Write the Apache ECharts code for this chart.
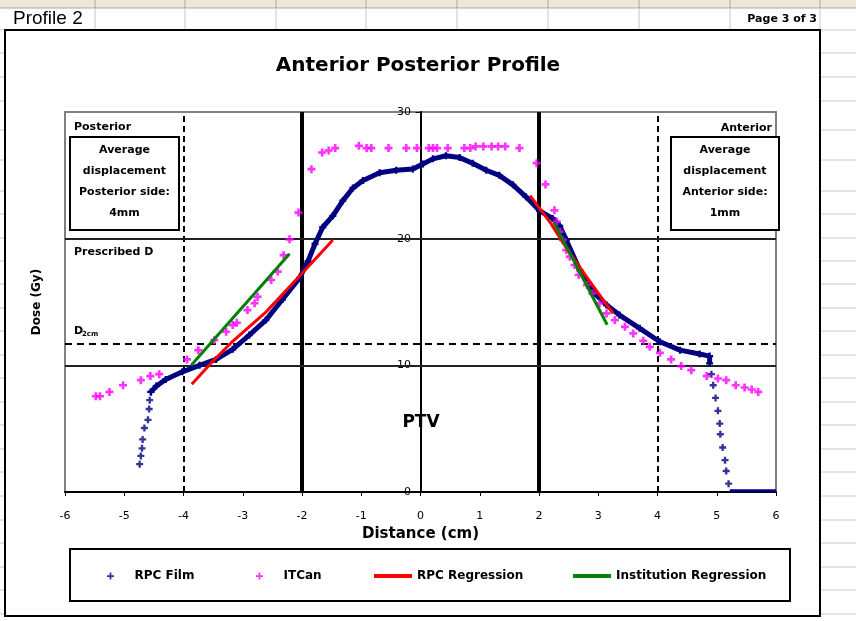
<!DOCTYPE html>
<html>
<head>
<meta charset="utf-8">
<script src="https://cdn.jsdelivr.net/npm/echarts@6/dist/echarts.min.js"></script>
<style>
html,body{margin:0;padding:0;background:#fff;}
#chart{width:856px;height:621px;}
</style>
</head>
<body>
<div id="chart"></div>
<script>
// ---------- data ----------
const xTicks = [-6,-5,-4,-3,-2,-1,0,1,2,3,4,5,6];
const yTicks = [0,10,20,30];

const filmLeftTail = [[-4.74,2.2],[-4.72,2.85],[-4.70,3.45],[-4.69,4.15],[-4.66,5.05],[-4.60,5.7],[-4.58,6.55],[-4.57,7.25],[-4.55,7.9]];
const filmCurve = [[-4.55,7.9],[-4.46,8.36],[-4.30,8.88],[-4.02,9.49],[-3.73,10.0],[-3.45,10.47],[-3.17,11.26],[-2.89,12.39],[-2.61,13.57],[-2.33,15.2],[-2.04,16.9],[-1.90,18.2],[-1.78,19.6],[-1.65,20.9],[-1.48,21.8],[-1.31,23.0],[-1.14,24.0],[-0.97,24.6],[-0.69,25.2],[-0.41,25.4],[-0.13,25.5],[0.04,25.9],[0.21,26.3],[0.43,26.55],[0.66,26.4],[0.88,25.95],[1.11,25.4],[1.33,25.0],[1.56,24.25],[1.78,23.3],[2.01,22.2],[2.23,21.6],[2.35,21.0],[2.46,19.9],[2.69,17.5],[2.91,15.8],[3.14,14.76],[3.36,13.97],[3.70,12.92],[4.04,11.86],[4.38,11.2],[4.71,10.89],[4.88,10.73],[4.88,10.15]];
const filmRightTail = [[4.91,9.3],[4.94,8.43],[4.98,7.43],[5.02,6.41],[5.05,5.40],[5.06,4.56],[5.10,3.51],[5.14,2.51],[5.16,1.66],[5.20,0.66]];
const filmFloor = [[5.22,0.1],[6.0,0.1]];

const itCan = [[-5.48,7.56],[-5.41,7.56],[-5.25,7.9],[-5.02,8.43],[-4.72,8.83],[-4.56,9.15],[-4.41,9.30],[-3.94,10.47],[-3.75,11.2],[-3.48,11.99],[-3.28,12.65],[-3.17,13.18],[-3.10,13.36],[-2.92,14.36],[-2.80,14.9],[-2.75,15.4],[-2.52,16.74],[-2.41,17.4],[-2.31,18.7],[-2.21,19.95],[-2.06,22.06],[-1.84,25.49],[-1.66,26.8],[-1.55,26.96],[-1.44,27.15],[-1.04,27.33],[-0.91,27.15],[-0.83,27.15],[-0.54,27.15],[-0.24,27.15],[-0.06,27.15],[0.14,27.15],[0.21,27.15],[0.28,27.15],[0.46,27.15],[0.74,27.15],[0.84,27.15],[0.93,27.28],[1.06,27.28],[1.20,27.28],[1.31,27.28],[1.43,27.28],[1.67,27.15],[1.96,25.96],[2.11,24.28],[2.26,22.24],[2.30,21.35],[2.35,20.55],[2.40,19.9],[2.46,19.1],[2.52,18.58],[2.60,17.92],[2.67,17.13],[2.81,16.34],[2.90,15.68],[3.02,14.89],[3.14,14.1],[3.28,13.57],[3.45,13.04],[3.59,12.52],[3.76,11.94],[3.87,11.46],[4.04,10.99],[4.23,10.47],[4.40,9.94],[4.57,9.62],[4.83,9.15],[5.02,8.96],[5.16,8.83],[5.32,8.43],[5.47,8.25],[5.59,8.09],[5.70,7.9]];

const rpcRegLeft = [[-3.86,8.5],[-3.51,10.3],[-3.17,11.9],[-2.61,14.2],[-2.04,17.05],[-1.48,19.9]];
const rpcRegRight = [[1.85,23.4],[2.2,21.2],[2.5,19.0],[2.8,17.0],[3.0,15.7],[3.25,14.1]];
const instRegLeft = [[-3.87,10.0],[-2.21,18.8]];
const instRegRight = [[2.25,21.3],[3.15,13.2]];

const dashedX = [-4, 4];
const thickX = [-2, 2];
const solidY = [10, 20];
const dashedY = [11.7];

const seriesNames = ['RPC Film','ITCan','RPC Regression','Institution Regression'];
const posteriorText = ['Average','displacement','Posterior side:','4mm'];
const anteriorText = ['Average','displacement','Anterior side:','1mm'];

// ---------- layout ----------
const FONT = '"DejaVu Sans", sans-serif';
const PLUS = 'path://M3,0H5V3H8V5H5V8H3V5H0V3H3Z';
const PLUS_BOLD = 'path://M3,0H6V3H9V6H6V9H3V6H0V3H3Z';
const NAVY = '#000080', MAG = '#FF00FF', RED = '#FF0000', GREEN = '#008000';
const GRID_L = 65, GRID_R = 80, GRID_T = 112, GRID_B = 129;
const Y_AXIS_OFFSET = -(421 - GRID_L);   // labels of the y axis sit at x = 0

const rowLines = [30,53,77,101,130,160,191,214,238,261,284,308,331,355,378,402,425,449,472,496,520,543,567,590,614];
const colLines = [95,185,276,366,457,548,639,730,820];

const bg = [];
bg.push({type:'rect', z:-5, shape:{x:0,y:0,width:856,height:8}, style:{fill:'#ECE9D8'}});
bg.push({type:'line', z:-5, shape:{x1:0,y1:8,x2:856,y2:8}, style:{stroke:'#ACA899',lineWidth:1}});
colLines.forEach(x=>{
  bg.push({type:'line', z:-5, shape:{x1:x,y1:0,x2:x,y2:8}, style:{stroke:'#ACA899',lineWidth:1}});
  bg.push({type:'line', z:-5, shape:{x1:x,y1:8,x2:x,y2:30}, style:{stroke:'#C8C8C8',lineWidth:1}});
});
rowLines.forEach(y=>{
  bg.push({type:'line', z:-5, shape:{x1:820,y1:y,x2:856,y2:y}, style:{stroke:'#C8C8C8',lineWidth:1}});
  bg.push({type:'line', z:-5, shape:{x1:0,y1:y,x2:4,y2:y}, style:{stroke:'#C8C8C8',lineWidth:1}});
});
bg.push({type:'rect', z:-4, shape:{x:5,y:30,width:815,height:586}, style:{fill:'#fff',stroke:'#000',lineWidth:2}});
bg.push({type:'text', z:-3, style:{text:'Profile 2', x:13, y:19, fill:'#000', font:'19px "Liberation Sans", Arial, sans-serif', verticalAlign:'middle'}});
bg.push({type:'text', z:-3, style:{text:'Page 3 of 3', x:817, y:19, fill:'#000', font:'bold 11px '+FONT, align:'right', verticalAlign:'middle'}});

// annotation boxes and labels
const ann = [
  {type:'rect', z:10, shape:{x:70,y:137,width:109,height:93}, style:{fill:'#fff',stroke:'#000',lineWidth:2}},
  {type:'text', z:11, style:{text:posteriorText.join('\n'), x:124.5, y:182, fill:'#000', font:'bold 11px '+FONT, lineHeight:21, align:'center', verticalAlign:'middle'}},
  {type:'rect', z:10, shape:{x:671,y:137,width:108,height:93}, style:{fill:'#fff',stroke:'#000',lineWidth:2}},
  {type:'text', z:11, style:{text:anteriorText.join('\n'), x:725, y:182, fill:'#000', font:'bold 11px '+FONT, lineHeight:21, align:'center', verticalAlign:'middle'}},
  {type:'text', z:11, style:{text:'Posterior', x:74, y:127, fill:'#000', font:'bold 11px '+FONT, verticalAlign:'middle'}},
  {type:'text', z:11, style:{text:'Anterior', x:772, y:128, fill:'#000', font:'bold 11px '+FONT, align:'right', verticalAlign:'middle'}},
  {type:'text', z:11, style:{text:'Prescribed D', x:74, y:252, fill:'#000', font:'bold 11px '+FONT, verticalAlign:'middle'}},
  {type:'text', z:11, style:{text:'D', x:74, y:331, fill:'#000', font:'bold 11px '+FONT, verticalAlign:'middle'}},
  {type:'text', z:11, style:{text:'2cm', x:82, y:334, fill:'#000', font:'bold 7px '+FONT, verticalAlign:'middle'}},
  {type:'text', z:11, style:{text:'PTV', x:421, y:423, fill:'#000', font:'bold 17px '+FONT, align:'center', verticalAlign:'middle'}},
  {type:'rect', z:1, shape:{x:70,y:549,width:720,height:52}, style:{fill:'none',stroke:'#000',lineWidth:2}}
];

function legendAt(name, left, icon, w, h){
  return {data:[{name:name, icon:icon}], left:left, top:570, padding:0, itemWidth:w, itemHeight:h, itemGap:0,
    orient:'horizontal', selectedMode:false,
    textStyle:{fontFamily:FONT, fontWeight:'bold', fontSize:12, color:'#000', padding:[0,0,0,0]}};
}

const chart = echarts.init(document.getElementById('chart'), null, {renderer:'canvas'});
chart.setOption({
  animation:false,
  backgroundColor:'#fff',
  title:{text:'Anterior Posterior Profile', left:413, textAlign:'center', top:51,
    textStyle:{fontFamily:FONT, fontWeight:'bold', fontSize:20, color:'#000'}},
  grid:{left:GRID_L, right:GRID_R, top:GRID_T, bottom:GRID_B, show:true, borderColor:'#808080', borderWidth:2,
    backgroundColor:'transparent', containLabel:false, outerBoundsMode:'none'},
  legend:[
    legendAt(seriesNames[0], 107, PLUS, 38, 7),
    legendAt(seriesNames[1], 256, PLUS, 38, 7),
    legendAt(seriesNames[2], 374, 'rect', 38, 4),
    legendAt(seriesNames[3], 573, 'rect', 38, 4)
  ],
  xAxis:{type:'value', min:xTicks[0], max:xTicks[xTicks.length-1], interval:1,
    name:'Distance (cm)', nameLocation:'middle', nameGap:32,
    nameTextStyle:{fontFamily:FONT, fontWeight:'bold', fontSize:15, color:'#000'},
    axisLine:{show:true, onZero:false, lineStyle:{color:'#000', width:2}},
    axisTick:{show:true, length:4, lineStyle:{color:'#000', width:1}},
    axisLabel:{show:true, margin:19, fontFamily:FONT, fontSize:11, color:'#000', showMinLabel:true, showMaxLabel:true},
    splitLine:{show:false}},
  yAxis:[
    {type:'value', min:yTicks[0], max:yTicks[yTicks.length-1], interval:10, position:'left', offset:Y_AXIS_OFFSET,
      name:'Dose (Gy)', nameLocation:'middle', nameGap:378, nameRotate:90,
      nameTextStyle:{fontFamily:FONT, fontWeight:'bold', fontSize:12, color:'#000'},
      axisLine:{show:false, onZero:false}, axisTick:{show:false},
      axisLabel:{show:true, margin:10, fontFamily:FONT, fontSize:11, color:'#000', showMinLabel:true, showMaxLabel:true},
      splitLine:{show:false}},
    {type:'value', min:yTicks[0], max:yTicks[yTicks.length-1], interval:10, position:'left',
      axisLine:{show:true, onZero:true, lineStyle:{color:'#000', width:2}},
      axisTick:{show:true, length:5, lineStyle:{color:'#000', width:1}},
      axisLabel:{show:false}, splitLine:{show:false}}
  ],
  graphic:{elements: bg.concat(ann)},
  series:[
    {name:'refs', type:'line', data:[], silent:true, z:1,
      markLine:{silent:true, z:1, symbol:['none','none'], label:{show:false}, animation:false,
        emphasis:{disabled:true},
        data:[].concat(
          dashedX.map(v=>({xAxis:v, lineStyle:{color:'#000', width:2, type:[6,4]}})),
          thickX.map(v=>({xAxis:v, lineStyle:{color:'#000', width:4, type:'solid'}})),
          solidY.map(v=>({yAxis:v, lineStyle:{color:'#222', width:2, type:'solid'}})),
          dashedY.map(v=>({yAxis:v, lineStyle:{color:'#000', width:2, type:[7,5]}}))
        )}},
    {name:seriesNames[0], type:'scatter', data:filmLeftTail.concat(filmRightTail), symbol:PLUS_BOLD, symbolSize:7,
      itemStyle:{color:NAVY}, z:3},
    {name:seriesNames[0], type:'line', data:filmCurve, symbol:PLUS_BOLD, symbolSize:7, showSymbol:true,
      lineStyle:{color:NAVY, width:5}, itemStyle:{color:NAVY}, z:3},
    {name:seriesNames[0], type:'line', data:filmFloor, symbol:'none',
      lineStyle:{color:NAVY, width:3}, itemStyle:{color:NAVY}, z:3},
    {name:seriesNames[1], type:'scatter', data:itCan, symbol:PLUS_BOLD, symbolSize:8,
      itemStyle:{color:MAG}, z:4},
    {name:seriesNames[2], type:'line', data:rpcRegLeft, symbol:'none', lineStyle:{color:RED, width:3}, itemStyle:{color:RED}, z:5},
    {name:seriesNames[2], type:'line', data:rpcRegRight, symbol:'none', lineStyle:{color:RED, width:3}, itemStyle:{color:RED}, z:5},
    {name:seriesNames[3], type:'line', data:instRegLeft, symbol:'none', lineStyle:{color:GREEN, width:3}, itemStyle:{color:GREEN}, z:5},
    {name:seriesNames[3], type:'line', data:instRegRight, symbol:'none', lineStyle:{color:GREEN, width:3}, itemStyle:{color:GREEN}, z:5}
  ]
});
</script>
</body>
</html>
